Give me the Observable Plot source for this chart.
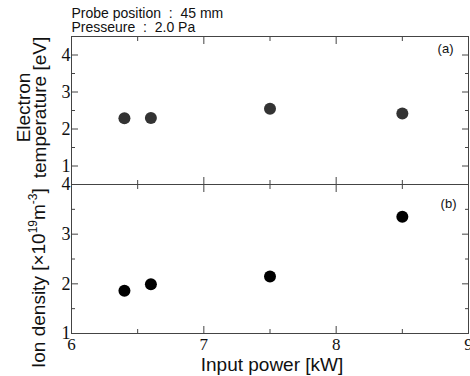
<!DOCTYPE html>
<html>
<head>
<meta charset="utf-8">
<script src="https://cdn.jsdelivr.net/npm/d3@7"></script>
<script src="https://cdn.jsdelivr.net/npm/@observablehq/plot@0.6"></script>
<style>
  body { margin: 0; background: white; }
  #chart { position: relative; width: 470px; height: 376px; overflow: hidden; }
  #chart svg { position: absolute; left: 0; }
</style>
</head>
<body>
<div id="chart"></div>
<script>
// ---- data ----
const power = [6.4, 6.6, 7.5, 8.5];                 // Input power [kW]
const electronTemp = [2.29, 2.30, 2.55, 2.42];      // Electron temperature [eV]
const ionDensity = [1.86, 1.99, 2.15, 3.35];        // Ion density [x10^19 m^-3]

const xMajor = [6, 7, 8, 9];
const xMinor = [6.5, 7.5, 8.5];
const teMajor = [1, 2, 3, 4];
const teMinor = [1.5, 2.5, 3.5];
const niMajor = [1, 2, 3, 4];
const niMinor = [1.5, 2.5, 3.5];

const headerLines = ["Probe position  :  45 mm", "Presseure  :  2.0 Pa"];
const tempLabel = ["Electron", "temperature [eV]"];
const xLabel = "Input power [kW]";

const rows = power.map((p, i) => ({power: p, te: electronTemp[i], ni: ionDensity[i]}));

const SANS = "Liberation Sans";
const SERIF = "Liberation Serif";
const FRAME = "#444";
const INK = "#111";

function inwardTicks(kind, majors, minors) {
  const out = [];
  if (kind === "x") {
    for (const anchor of ["top", "bottom"]) {
      const k = anchor === "top" ? "insetTop" : "insetBottom";
      out.push(Plot.axisX({anchor, ticks: majors, tickSize: 7, [k]: 7, fill: "none", stroke: FRAME, label: null}));
      out.push(Plot.axisX({anchor, ticks: minors, tickSize: 4, [k]: 4, fill: "none", stroke: FRAME, label: null}));
    }
  } else {
    for (const anchor of ["left", "right"]) {
      const k = anchor === "left" ? "insetLeft" : "insetRight";
      out.push(Plot.axisY({anchor, ticks: majors, tickSize: 7, [k]: 7, fill: "none", stroke: FRAME, label: null}));
      out.push(Plot.axisY({anchor, ticks: minors, tickSize: 4, [k]: 4, fill: "none", stroke: FRAME, label: null}));
    }
  }
  return out;
}

function yTickLabels(ticks) {
  return Plot.text(ticks, {y: d => d, text: d => String(d), frameAnchor: "left", dx: -1, textAnchor: "end",
                           lineAnchor: "middle", fontFamily: SERIF, fontSize: 18, fill: INK});
}

const common = {
  width: 470,
  marginLeft: 71,
  marginRight: 2,
  x: {domain: [6, 9]},
  style: {background: "transparent", overflow: "visible", color: INK}
};

// ---- panel (a) ----
const A = Plot.plot({
  ...common,
  height: 184,
  marginTop: 36,
  marginBottom: 0,
  y: {domain: [0.5, 4.5]},
  marks: [
    Plot.frame({stroke: FRAME}),
    ...inwardTicks("x", xMajor, xMinor),
    ...inwardTicks("y", teMajor, teMinor),
    yTickLabels(teMajor),
    Plot.dot(rows, {x: "power", y: "te", r: 6, fill: "#333", stroke: "none"}),
    Plot.text(["(a)"], {frameAnchor: "top-right", dx: -15, dy: 7, lineAnchor: "top", textAnchor: "end", fontSize: 13, fontFamily: SANS, fill: INK}),
    Plot.text([headerLines.join("\n")], {frameAnchor: "top-left", dx: 0, dy: -28, lineAnchor: "top", textAnchor: "start",
               fontSize: 14, lineHeight: 1.0, fontFamily: SANS, fill: INK}),
    Plot.text([tempLabel.join("\n")], {frameAnchor: "left", rotate: -90, dx: -38.5, dy: -3, textAnchor: "middle", lineAnchor: "middle",
               fontSize: 19, lineHeight: 0.84, fontFamily: SANS, fill: INK})
  ]
});
A.style.top = "0px";

// ---- panel (b) ----
const B = Plot.plot({
  ...common,
  height: 202,
  marginTop: 10,
  marginBottom: 43,
  y: {domain: [1, 4]},
  marks: [
    Plot.frame({stroke: FRAME}),
    ...inwardTicks("x", xMajor, xMinor),
    ...inwardTicks("y", niMajor, niMinor),
    yTickLabels(niMajor),
    Plot.text(xMajor, {x: d => d, text: d => String(d), frameAnchor: "bottom", dy: 4, textAnchor: "middle",
                       lineAnchor: "top", fontFamily: SERIF, fontSize: 17, fill: INK}),
    Plot.dot(rows, {x: "power", y: "ni", r: 6, fill: "#000", stroke: "none"}),
    Plot.text(["(b)"], {frameAnchor: "top-right", dx: -12, dy: 14, lineAnchor: "top", textAnchor: "end", fontSize: 13, fontFamily: SANS, fill: INK}),
    Plot.text([xLabel], {frameAnchor: "bottom", dx: 2, dy: 31, lineAnchor: "middle", textAnchor: "middle", fontSize: 19, fontFamily: SANS, fill: INK})
  ]
});
B.style.top = "174px";

// ion density label with superscripts (real text)
{
  const yB = B.scale("y");
  const yStart = yB.apply(1) + 35;
  const t = d3.select(B).append("text")
    .attr("transform", `translate(45,${yStart}) rotate(-90)`)
    .attr("text-anchor", "start")
    .attr("font-family", SANS)
    .attr("font-size", 19)
    .attr("fill", INK);
  t.append("tspan").text("Ion density [\u00D710");
  t.append("tspan").attr("dy", -8).attr("font-size", 12).text("19");
  t.append("tspan").attr("dy", 8).text("m");
  t.append("tspan").attr("dy", -8).attr("font-size", 12).text("-3");
  t.append("tspan").attr("dy", 8).text("]");
}

const chart = document.getElementById("chart");
chart.appendChild(A);
chart.appendChild(B);
</script>
</body>
</html>
